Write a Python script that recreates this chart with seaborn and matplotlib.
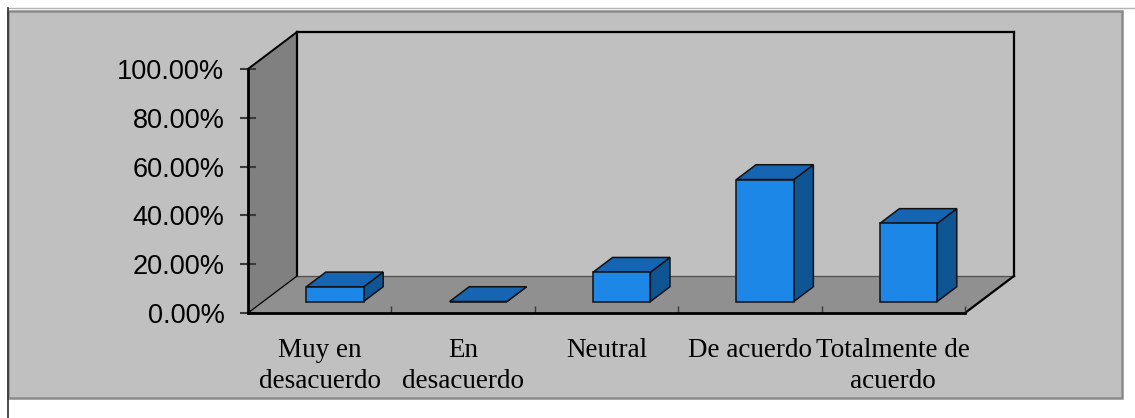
import matplotlib
matplotlib.use("Agg")
import matplotlib.pyplot as plt
from matplotlib.patches import Polygon, Rectangle
from matplotlib.lines import Line2D
from matplotlib.ticker import PercentFormatter, FixedLocator
import pandas as pd
import seaborn as sns

# Survey answers and their share of respondents (%)
categorias = ["Muy en\ndesacuerdo", "En\ndesacuerdo", "Neutral", "De acuerdo", "Totalmente de\nacuerdo"]
porcentajes = [6.0, 0.0, 12.0, 50.0, 32.0]
y_ticks = [0, 20, 40, 60, 80, 100]

# Colours of the Excel-like 3D column chart
FRONT = "#1C87E6"
TOP = "#1565B2"
SIDE = "#0F5594"
EDGE = "#111111"
AREA = "#C0C0C0"
SIDE_WALL = "#808080"
FLOOR = "#909090"

plt.rcParams["font.family"] = ["Liberation Sans", "DejaVu Sans"]

W, H = 1135, 418
fig = plt.figure(figsize=(W / 100, H / 100), dpi=100)
fig.patch.set_facecolor("white")


def fx(x):
    return x / W


def fy(y):
    return 1 - y / H


# chart area frame
fig.patches.append(Rectangle((fx(8), fy(398)), fx(1122) - fx(8), fy(11) - fy(398),
                             transform=fig.transFigure, facecolor=AREA,
                             edgecolor="#8A8A8A", linewidth=1.8, zorder=-5))
fig.lines.append(Line2D([fx(8), 1], [fy(8), fy(8)], color="#B4B4B4", lw=1.0,
                        transform=fig.transFigure, zorder=-4))
fig.lines.append(Line2D([fx(8), fx(8)], [fy(8), 0], color="#303030", lw=1.2,
                        transform=fig.transFigure, zorder=-4))

ax = fig.add_axes([fx(248), fy(313), fx(965) - fx(248), fy(69) - fy(313)])
ax.set_facecolor("none")

df = pd.DataFrame({"categoria": categorias, "porcentaje": porcentajes})
sns.barplot(data=df, x="categoria", y="porcentaje", ax=ax, width=0.4,
            color=FRONT, saturation=1, edgecolor=EDGE, linewidth=1.1, zorder=5)
ax.set_xlim(-0.5, 4.5)
ax.set_ylim(0, 100)
ax.set_xlabel("")
ax.set_ylabel("")

# oblique depth of the 3D box, expressed in data units
bbox = ax.get_window_extent()
px_x = bbox.width / (ax.get_xlim()[1] - ax.get_xlim()[0])
px_y = bbox.height / (ax.get_ylim()[1] - ax.get_ylim()[0])
Dx, Dy = 49 / px_x, 37 / px_y
x0, x1 = ax.get_xlim()
ymax = ax.get_ylim()[1]

# walls and floor
ax.add_patch(Rectangle((x0 + Dx, Dy), x1 - x0, ymax, facecolor=AREA, edgecolor="none",
                       zorder=0.5, clip_on=False))
ax.add_patch(Polygon([(x0, 0), (x0, ymax), (x0 + Dx, ymax + Dy), (x0 + Dx, Dy)],
                     facecolor=SIDE_WALL, edgecolor="none", zorder=1, clip_on=False))
ax.add_patch(Polygon([(x0, 0), (x1, 0), (x1 + Dx, Dy), (x0 + Dx, Dy)],
                     facecolor=FLOOR, edgecolor="none", zorder=1, clip_on=False))
edges = [
    ([x0 + Dx, x0 + Dx], [Dy, ymax + Dy], "black", 1.6),
    ([x0 + Dx, x1 + Dx], [ymax + Dy, ymax + Dy], "black", 1.6),
    ([x1 + Dx, x1 + Dx], [Dy, ymax + Dy], "black", 1.6),
    ([x0 + Dx, x1 + Dx], [Dy, Dy], "#505050", 0.9),
    ([x0, x0 + Dx], [ymax, ymax + Dy], "black", 1.4),
    ([x0, x0 + Dx], [0, Dy], "black", 0.9),
    ([x1, x1 + Dx], [0, Dy], "black", 1.6),
]
for xs, ys, c, lw in edges:
    ax.add_line(Line2D(xs, ys, color=c, lw=lw, zorder=1.5, clip_on=False))

# turn the flat bars into boxes standing in the middle of the depth
f0, fd = 0.31, 0.40
for p in list(ax.patches)[:len(porcentajes)]:
    bx, bw, bh = p.get_x(), p.get_width(), p.get_height()
    bx += f0 * Dx
    by = f0 * Dy
    p.set_x(bx)
    p.set_y(by)
    p.set_clip_on(False)
    ddx, ddy = fd * Dx, fd * Dy
    ax.add_patch(Polygon([(bx + bw, by), (bx + bw, by + bh), (bx + bw + ddx, by + bh + ddy),
                          (bx + bw + ddx, by + ddy)], facecolor=SIDE, edgecolor=EDGE,
                         linewidth=1.1, zorder=4, clip_on=False))
    ax.add_patch(Polygon([(bx, by + bh), (bx + bw, by + bh), (bx + bw + ddx, by + bh + ddy),
                          (bx + ddx, by + bh + ddy)], facecolor=TOP, edgecolor=EDGE,
                         linewidth=1.1, zorder=4, clip_on=False))

# axes
for s in ("top", "right"):
    ax.spines[s].set_visible(False)
for s in ("left", "bottom"):
    ax.spines[s].set_linewidth(2.0)
    ax.spines[s].set_color("black")
    ax.spines[s].set_zorder(3)

ax.yaxis.set_major_locator(FixedLocator(y_ticks))
ax.yaxis.set_major_formatter(PercentFormatter(decimals=2))
ax.tick_params(axis="y", direction="inout", length=12, width=1.5, color="#3A3A3A",
               pad=11, labelsize=19.5, labelcolor="black")
ax.xaxis.set_minor_locator(FixedLocator([0.5, 1.5, 2.5, 3.5, 4.5]))
ax.tick_params(axis="x", which="major", length=0, pad=18, labelsize=19.5,
               labelcolor="black", labelfontfamily="Liberation Serif")
ax.tick_params(axis="x", which="minor", direction="in", length=5, width=1.0,
               color="#3A3A3A")
for t in ax.get_xticklabels():
    t.set_linespacing(1.32)

fig.savefig("out.png", dpi=100, facecolor="white")
